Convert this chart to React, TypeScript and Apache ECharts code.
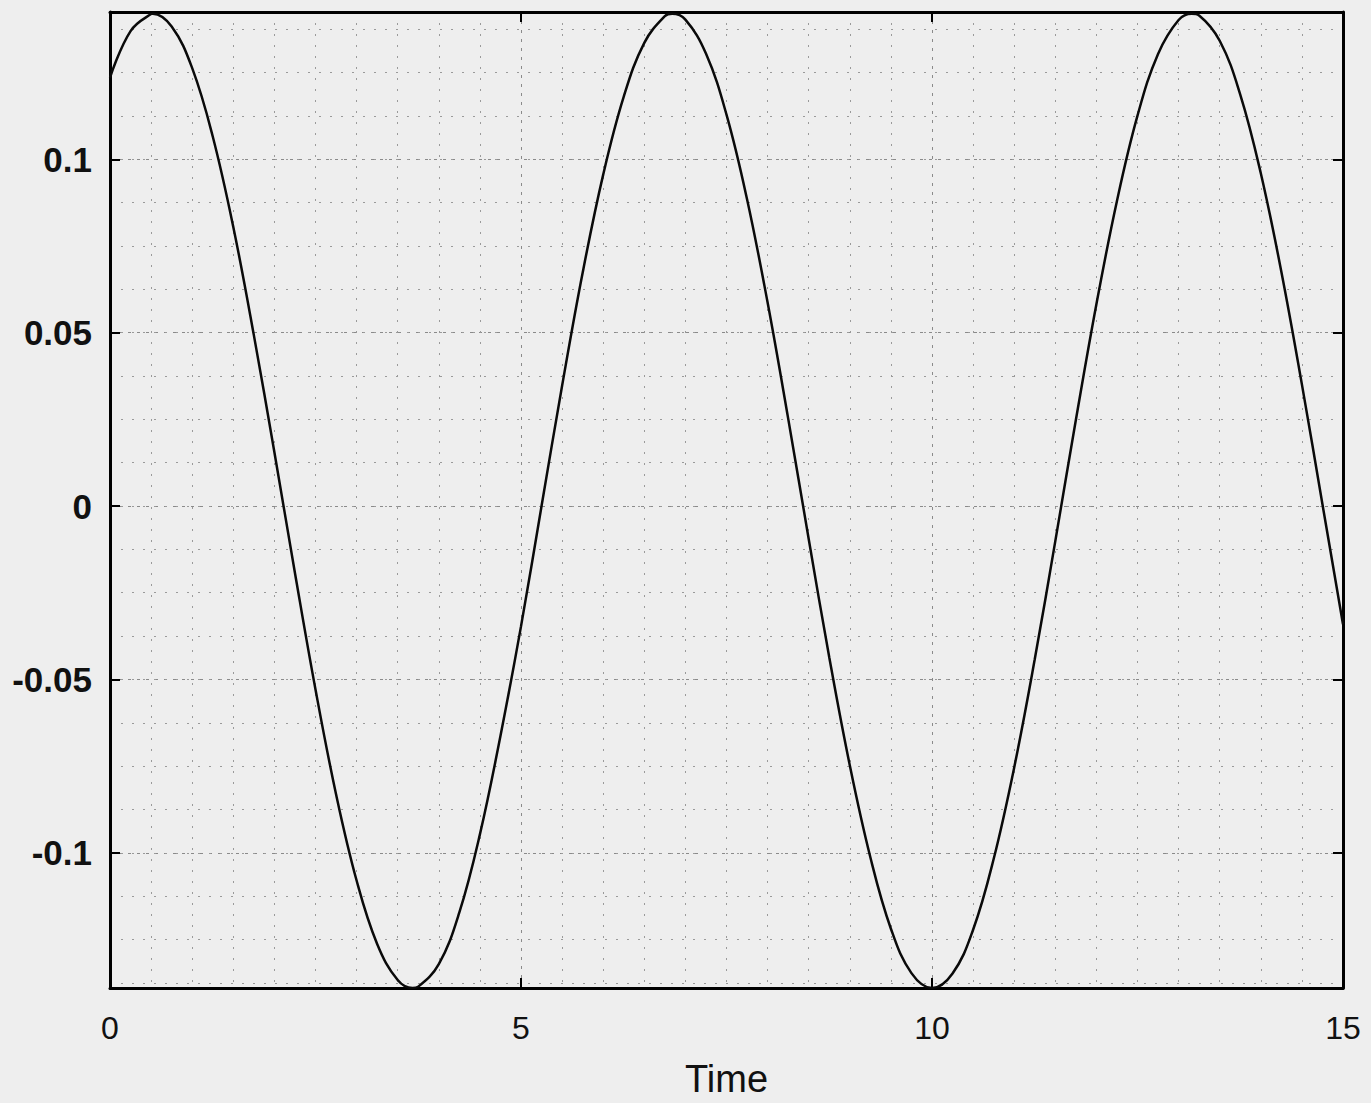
import React, { useEffect, useRef } from "react";
import * as echarts from "echarts";

const timeValues: number[] = [
  0, 0.25, 0.5, 0.52, 0.75, 1, 1.25, 1.5, 1.75, 2, 2.25, 2.5, 2.75, 3, 3.25, 3.5, 3.68, 3.75,
  4, 4.25, 4.5, 4.75, 5, 5.25, 5.5, 5.75, 6, 6.25, 6.5, 6.75, 6.84, 7, 7.25, 7.5, 7.75,
  8, 8.25, 8.5, 8.75, 9, 9.25, 9.5, 9.75, 10, 10.25, 10.5, 10.75, 11, 11.25, 11.5, 11.75,
  12, 12.25, 12.5, 12.75, 13, 13.16, 13.25, 13.5, 13.75, 14, 14.25, 14.5, 14.75, 15,
];

const signalValues: number[] = [
  0.1236, 0.137, 0.1419, 0.142, 0.1383, 0.1263, 0.1066, 0.0805, 0.0493, 0.0155, -0.0193, -0.0529,
  -0.0831, -0.108, -0.1263, -0.1367, -0.139, -0.1386, -0.1321, -0.1172, -0.0947, -0.0663, -0.0347,
  0.0, 0.0347, 0.0673, 0.0956, 0.1181, 0.1336, 0.1413, 0.142, 0.1403, 0.1305, 0.1129, 0.0885,
  0.0587, 0.0253, -0.0095, -0.0436, -0.0748, -0.1013, -0.1219, -0.1347, -0.139, -0.1348, -0.1222,
  -0.1018, -0.0754, -0.0442, -0.0101, 0.0248, 0.0582, 0.088, 0.1126, 0.1304, 0.1402, 0.142, 0.1415,
  0.1342, 0.1187, 0.096, 0.0676, 0.0351, 0.0005, -0.0341,
];

const xTicks: number[] = [0, 5, 10, 15];
const yTicks: number[] = [-0.1, -0.05, 0, 0.05, 0.1];
const yMinorGrid: number[] = [
  -0.1375, -0.125, -0.1125, -0.1, -0.0875, -0.075, -0.0625, -0.05, -0.0375, -0.025, -0.0125, 0,
  0.0125, 0.025, 0.0375, 0.05, 0.0625, 0.075, 0.0875, 0.1, 0.1125, 0.125, 0.1375,
];

const Y_MIN = -0.139;
const Y_MAX = 0.1425;

export default function App() {
  const ref = useRef<HTMLDivElement>(null);

  useEffect(() => {
    document.body.style.margin = "0";
    if (!ref.current) return;
    const chart = echarts.init(ref.current, null, { renderer: "svg" });
    const data = timeValues.map((t, i) => [t, signalValues[i]]);
    const font = "'Liberation Sans', Arial, sans-serif";
    const minorLine = { show: true, lineStyle: { color: "#9a9a9a", width: 1, type: [2, 9] as any } };

    chart.setOption({
      animation: false,
      backgroundColor: "#eeeeee",
      grid: {
        left: 110,
        right: 28,
        top: 12,
        bottom: 113,
        show: false,
      },
      xAxis: [
        {
          type: "value",
          position: "bottom",
          min: 0,
          max: 15,
          interval: 5,
          name: "Time",
          nameLocation: "middle",
          nameGap: 72,
          nameTextStyle: { fontFamily: font, fontSize: 38, color: "#111" },
          axisLine: { show: true, onZero: false, lineStyle: { color: "#000", width: 3 } },
          axisTick: { show: true, inside: true, length: 10, lineStyle: { color: "#000", width: 2 } },
          axisLabel: {
            show: true,
            margin: 24,
            fontFamily: font,
            fontSize: 32,
            color: "#111",
            customValues: xTicks,
          },
          splitLine: { show: true, lineStyle: { color: "#8a8a8a", width: 1, type: [3, 6] as any } },
          minorTick: { show: false, splitNumber: 10 },
          minorSplitLine: minorLine,
        },
        {
          type: "value",
          position: "top",
          min: 0,
          max: 15,
          interval: 5,
          axisLine: { show: true, onZero: false, lineStyle: { color: "#000", width: 3 } },
          axisTick: { show: true, inside: true, length: 10, lineStyle: { color: "#000", width: 2 } },
          axisLabel: { show: false },
          splitLine: { show: false },
        },
      ],
      yAxis: [
        {
          type: "value",
          position: "left",
          min: Y_MIN,
          max: Y_MAX,
          axisLine: { show: true, onZero: false, lineStyle: { color: "#000", width: 3 } },
          axisTick: {
            show: true,
            inside: true,
            length: 10,
            lineStyle: { color: "#000", width: 2 },
            customValues: yTicks,
          },
          axisLabel: {
            show: true,
            margin: 18,
            fontFamily: font,
            fontSize: 35,
            fontWeight: "bold",
            color: "#111",
            customValues: yTicks,
            formatter: (v: number) => String(Math.round(v * 100) / 100),
          },
          splitLine: { show: true, lineStyle: { color: "#8a8a8a", width: 1, type: [3, 6] as any } },
        },
        {
          type: "value",
          position: "right",
          min: Y_MIN,
          max: Y_MAX,
          axisLine: { show: true, onZero: false, lineStyle: { color: "#000", width: 3 } },
          axisTick: {
            show: true,
            inside: true,
            length: 10,
            lineStyle: { color: "#000", width: 2 },
            customValues: yTicks,
          },
          axisLabel: { show: false },
          splitLine: { show: false },
        },
        {
          type: "value",
          position: "left",
          min: Y_MIN,
          max: Y_MAX,
          axisLine: { show: false },
          axisTick: { show: false, customValues: yMinorGrid },
          axisLabel: { show: false },
          splitLine: minorLine,
        },
      ],
      series: [
        {
          type: "line",
          xAxisIndex: 0,
          yAxisIndex: 0,
          data,
          smooth: 0.4,
          showSymbol: false,
          clip: true,
          lineStyle: { color: "#0a0a0a", width: 2.5 },
        },
      ],
    });

    return () => chart.dispose();
  }, []);

  return <div ref={ref} style={{ width: 1371, height: 1103 }} />;
}
